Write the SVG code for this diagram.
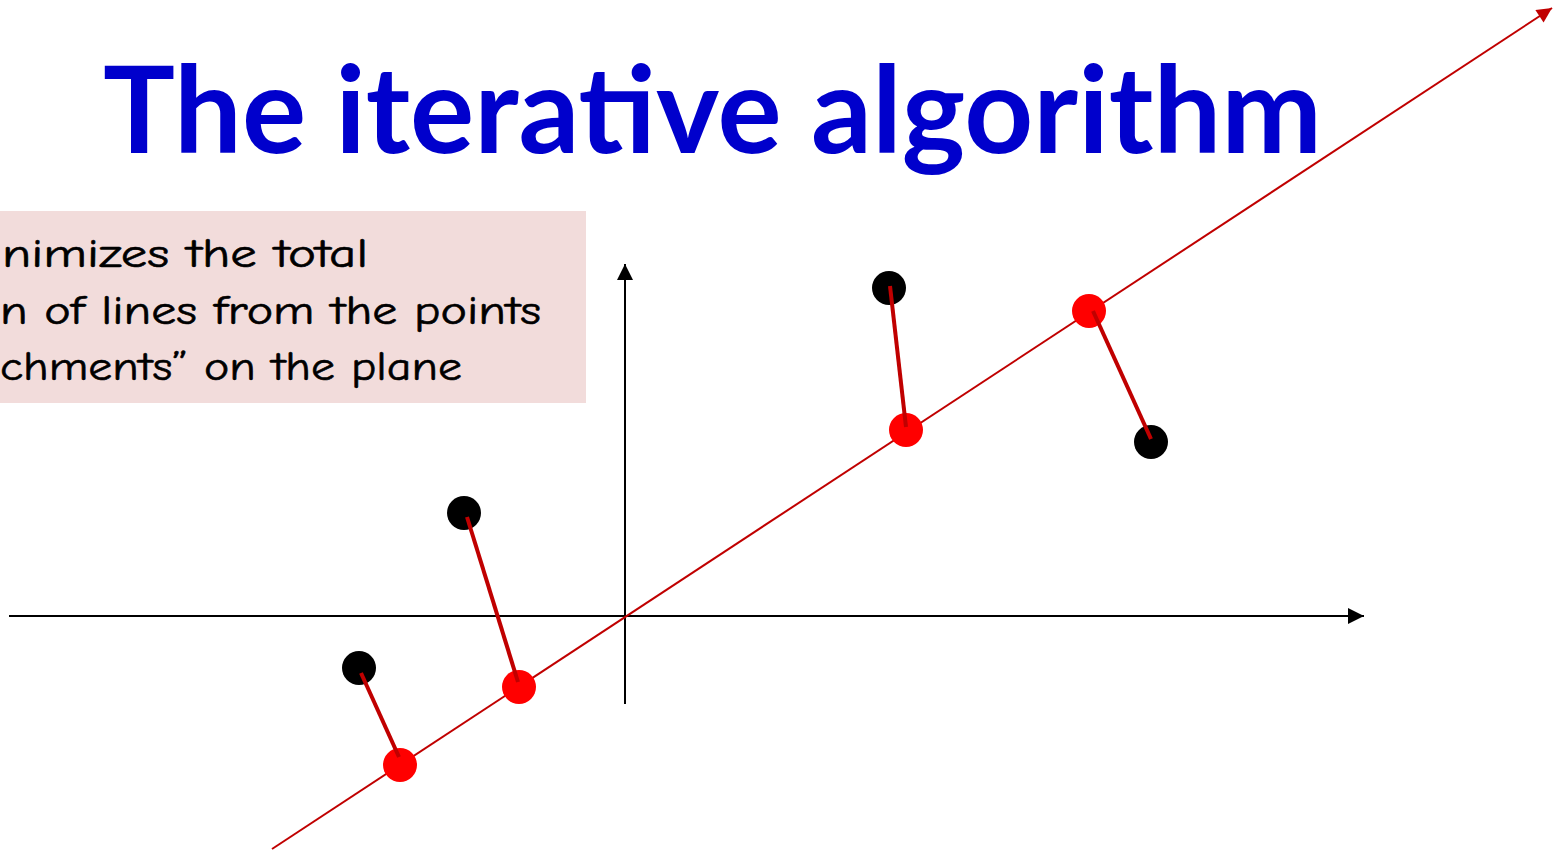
<svg xmlns="http://www.w3.org/2000/svg" width="1558" height="852" viewBox="0 0 1558 852">
<style>
.title{font-family:Lato,"Liberation Sans",Arial,sans-serif;font-weight:bold;font-size:120px;fill:#0000CC}
.note{font-family:"Comic Neue","DejaVu Sans","Liberation Sans",sans-serif;font-size:40px;fill:#000;stroke:#000;stroke-width:0.6}
.axis{stroke:#000;stroke-width:2;fill:none}
.fit{stroke:#C00000;stroke-width:2;fill:none}
.seg{stroke:#C00000;stroke-width:4}
.pt{fill:#000}
.proj{fill:#FF0000}
</style>
<defs>
<marker id="ab" viewBox="0 0 10 10" refX="10" refY="5" markerWidth="18" markerHeight="16" markerUnits="userSpaceOnUse" orient="auto"><path d="M0,0 L10,5 L0,10 Z" fill="#000"/></marker>
<marker id="ar" viewBox="0 0 10 10" refX="10" refY="5" markerWidth="18" markerHeight="15" markerUnits="userSpaceOnUse" orient="auto"><path d="M0,0 L10,5 L0,10 Z" fill="#C00000"/></marker>
</defs>
<rect width="1558" height="852" fill="#fff"/>
<g id="title"><text class="title" x="103" y="153" textLength="1219" lengthAdjust="spacingAndGlyphs">The iterative algorithm</text></g>
<g id="note">
<rect x="0" y="211" width="586" height="192" fill="#F2DCDB"/>
<text class="note" x="2" y="267" textLength="366" lengthAdjust="spacingAndGlyphs">nimizes the total</text>
<text class="note" x="0" y="324" textLength="541" lengthAdjust="spacingAndGlyphs">n of lines from the points</text>
<text class="note" x="0" y="380" textLength="462" lengthAdjust="spacingAndGlyphs">chments” on the plane</text>
</g>
<g id="connectors">
<line class="axis" x1="9" y1="616" x2="1364" y2="616" marker-end="url(#ab)"/>
<line class="axis" x1="625" y1="704" x2="625" y2="264" marker-end="url(#ab)"/>
<line class="fit" x1="272" y1="849" x2="1552" y2="8" marker-end="url(#ar)"/>
</g>
<g id="points">
<circle class="pt" cx="359" cy="668" r="17"/>
<circle class="pt" cx="464" cy="513" r="17"/>
<circle class="pt" cx="889" cy="288" r="17"/>
<circle class="pt" cx="1151" cy="442" r="17"/>
<circle class="proj" cx="400" cy="765" r="17"/>
<circle class="proj" cx="519" cy="687" r="17"/>
<circle class="proj" cx="906" cy="430" r="17"/>
<circle class="proj" cx="1089" cy="311" r="17"/>
</g>
<g id="residuals">
<line class="seg" x1="361" y1="673" x2="399" y2="757"/>
<line class="seg" x1="467" y1="517" x2="518" y2="682"/>
<line class="seg" x1="890" y1="286" x2="906" y2="427"/>
<line class="seg" x1="1093" y1="311" x2="1151" y2="439"/>
</g>
</svg>
